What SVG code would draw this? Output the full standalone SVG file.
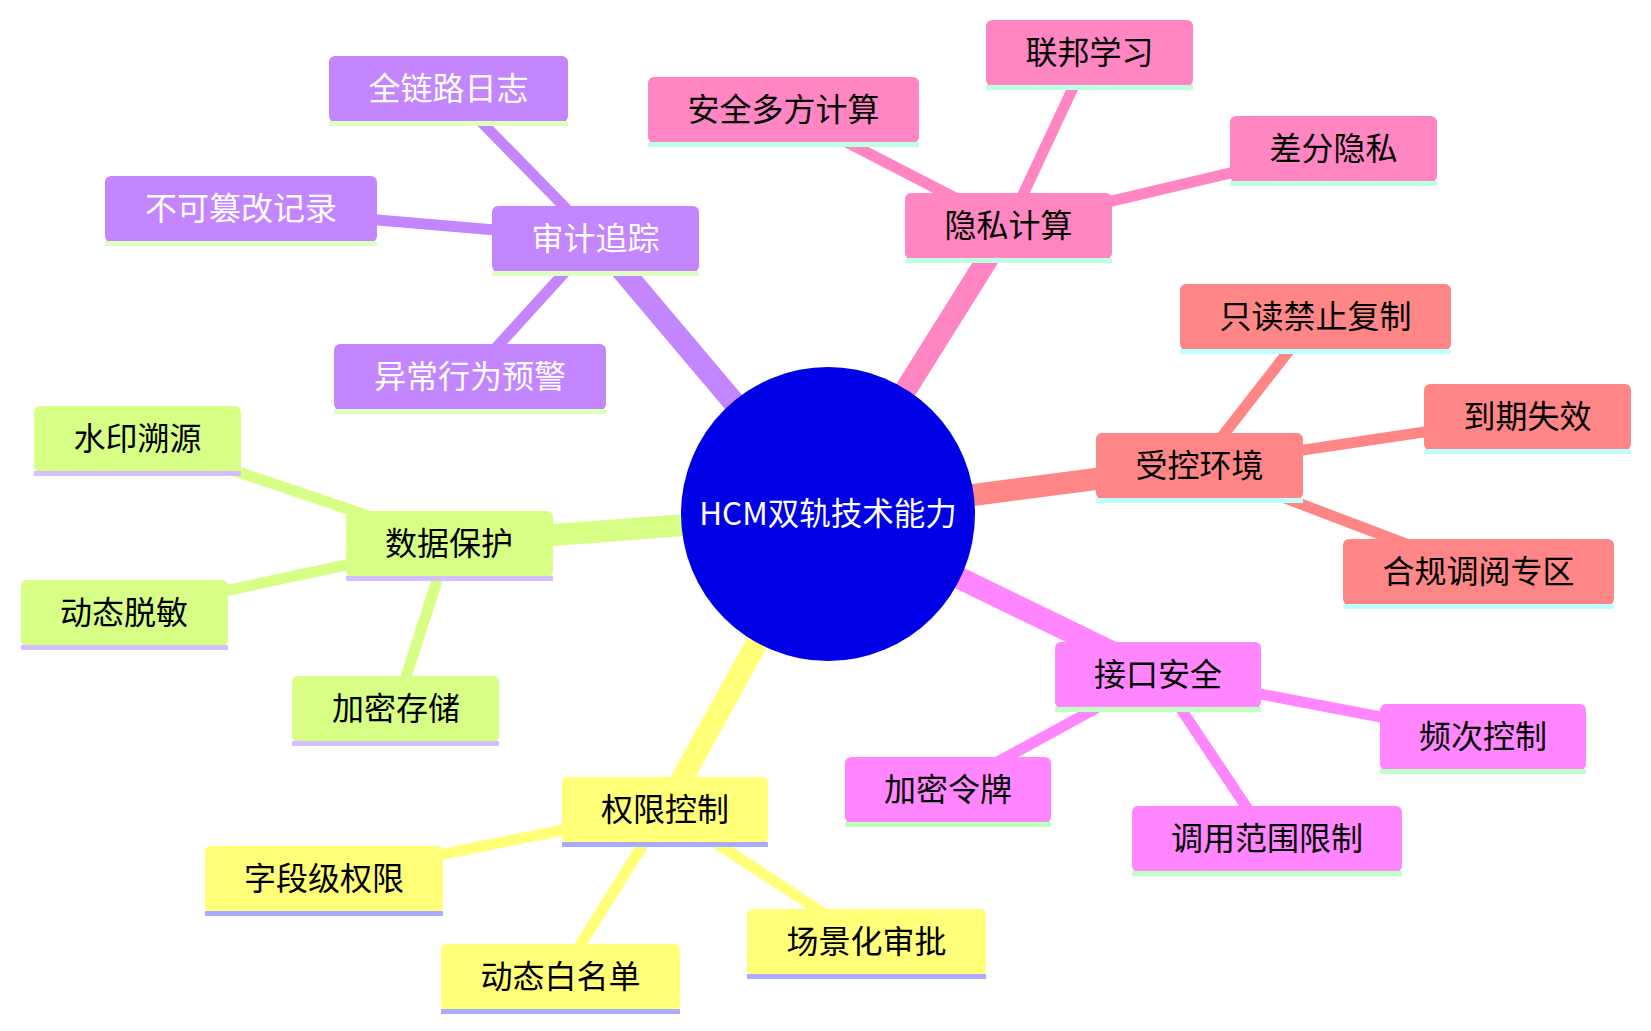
<svg xmlns="http://www.w3.org/2000/svg" width="1651" height="1031" viewBox="0 0 1651 1031">
<style>
  text { font-family: "Noto Sans CJK SC", "Noto Sans", sans-serif; font-size: 32px; text-anchor: middle; dominant-baseline: central; fill: #000; }
  .e0 { stroke-width: 22; stroke-linecap: butt; fill: none; }
  .e1 { stroke-width: 11; stroke-linecap: butt; fill: none; }
  .s-purple { stroke: #C386FF; } .f-purple { fill: #C386FF; } .u-purple { fill: #DDFFBF; }
  .s-pink { stroke: #FF86C3; } .f-pink { fill: #FF86C3; } .u-pink { fill: #BFFFE1; }
  .s-salmon { stroke: #FF8686; } .f-salmon { fill: #FF8686; } .u-salmon { fill: #BFFFFF; }
  .s-mag { stroke: #FF86FF; } .f-mag { fill: #FF86FF; } .u-mag { fill: #BFFFBF; }
  .s-yellow { stroke: #FFFF78; } .f-yellow { fill: #FFFF78; } .u-yellow { fill: #AAAAFF; }
  .s-lime { stroke: #D7FF86; } .f-lime { fill: #D7FF86; } .u-lime { fill: #D5BFFF; }
  .white { fill: #FFFFFF; }
</style>
<rect width="1651" height="1031" fill="#FFFFFF"/>
<g id="connectors">
  <line class="e0 s-purple" x1="828" y1="514" x2="595.5" y2="238.5"/>
  <line class="e1 s-purple" x1="595.5" y1="238.5" x2="448.5" y2="88.5"/>
  <line class="e1 s-purple" x1="595.5" y1="238.5" x2="241" y2="208.5"/>
  <line class="e1 s-purple" x1="595.5" y1="238.5" x2="470" y2="376.5"/>
  <line class="e0 s-pink" x1="828" y1="514" x2="1008.5" y2="225.5"/>
  <line class="e1 s-pink" x1="1008.5" y1="225.5" x2="783.5" y2="109.5"/>
  <line class="e1 s-pink" x1="1008.5" y1="225.5" x2="1089.5" y2="52.5"/>
  <line class="e1 s-pink" x1="1008.5" y1="225.5" x2="1333.5" y2="148.5"/>
  <line class="e0 s-salmon" x1="828" y1="514" x2="1199.5" y2="465.5"/>
  <line class="e1 s-salmon" x1="1199.5" y1="465.5" x2="1315.5" y2="316.5"/>
  <line class="e1 s-salmon" x1="1199.5" y1="465.5" x2="1527.5" y2="416.5"/>
  <line class="e1 s-salmon" x1="1199.5" y1="465.5" x2="1478.5" y2="571.5"/>
  <line class="e0 s-mag" x1="828" y1="514" x2="1158" y2="674.5"/>
  <line class="e1 s-mag" x1="1158" y1="674.5" x2="1483" y2="736.5"/>
  <line class="e1 s-mag" x1="1158" y1="674.5" x2="948" y2="789"/>
  <line class="e1 s-mag" x1="1158" y1="674.5" x2="1267" y2="838"/>
  <line class="e0 s-yellow" x1="828" y1="514" x2="665" y2="809.5"/>
  <line class="e1 s-yellow" x1="665" y1="809.5" x2="324" y2="878"/>
  <line class="e1 s-yellow" x1="665" y1="809.5" x2="560.5" y2="976.5"/>
  <line class="e1 s-yellow" x1="665" y1="809.5" x2="866.5" y2="941.5"/>
  <line class="e0 s-lime" x1="828" y1="514" x2="449" y2="543"/>
  <line class="e1 s-lime" x1="449" y1="543" x2="137.5" y2="438"/>
  <line class="e1 s-lime" x1="449" y1="543" x2="124" y2="612.5"/>
  <line class="e1 s-lime" x1="449" y1="543" x2="396" y2="708"/>
</g>
<g id="root">
  <circle cx="828" cy="514" r="147" fill="#0000E6"/>
  <text class="white" x="828" y="511" style="font-size:31.5px">HCM双轨技术能力</text>
</g>
<g id="n-audit"><rect class="f-purple" x="492" y="206" width="207" height="66" rx="6"/><rect class="u-purple" x="492" y="271" width="207" height="5"/><text class="white" x="595.5" y="236">审计追踪</text></g>
<g id="n-log"><rect class="f-purple" x="329" y="56" width="239" height="66" rx="6"/><rect class="u-purple" x="329" y="121" width="239" height="5"/><text class="white" x="448.5" y="86">全链路日志</text></g>
<g id="n-tamper"><rect class="f-purple" x="105" y="176" width="272" height="66" rx="6"/><rect class="u-purple" x="105" y="241" width="272" height="5"/><text class="white" x="241" y="206">不可篡改记录</text></g>
<g id="n-alert"><rect class="f-purple" x="334" y="344" width="272" height="66" rx="6"/><rect class="u-purple" x="334" y="409" width="272" height="5"/><text class="white" x="470" y="374">异常行为预警</text></g>

<g id="n-privacy"><rect class="f-pink" x="905" y="193" width="207" height="66" rx="6"/><rect class="u-pink" x="905" y="258" width="207" height="5"/><text x="1008.5" y="223">隐私计算</text></g>
<g id="n-mpc"><rect class="f-pink" x="648" y="77" width="271" height="66" rx="6"/><rect class="u-pink" x="648" y="142" width="271" height="5"/><text x="783.5" y="107">安全多方计算</text></g>
<g id="n-fl"><rect class="f-pink" x="986" y="20" width="207" height="66" rx="6"/><rect class="u-pink" x="986" y="85" width="207" height="5"/><text x="1089.5" y="50">联邦学习</text></g>
<g id="n-dp"><rect class="f-pink" x="1230" y="116" width="207" height="66" rx="6"/><rect class="u-pink" x="1230" y="181" width="207" height="5"/><text x="1333.5" y="146">差分隐私</text></g>

<g id="n-env"><rect class="f-salmon" x="1096" y="433" width="207" height="66" rx="6"/><rect class="u-salmon" x="1096" y="498" width="207" height="5"/><text x="1199.5" y="463">受控环境</text></g>
<g id="n-readonly"><rect class="f-salmon" x="1180" y="284" width="271" height="66" rx="6"/><rect class="u-salmon" x="1180" y="349" width="271" height="5"/><text x="1315.5" y="314">只读禁止复制</text></g>
<g id="n-expire"><rect class="f-salmon" x="1424" y="384" width="207" height="66" rx="6"/><rect class="u-salmon" x="1424" y="449" width="207" height="5"/><text x="1527.5" y="414">到期失效</text></g>
<g id="n-zone"><rect class="f-salmon" x="1343" y="539" width="271" height="66" rx="6"/><rect class="u-salmon" x="1343" y="604" width="271" height="5"/><text x="1478.5" y="569">合规调阅专区</text></g>

<g id="n-api"><rect class="f-mag" x="1055" y="642" width="206" height="66" rx="6"/><rect class="u-mag" x="1055" y="707" width="206" height="5"/><text x="1158" y="672">接口安全</text></g>
<g id="n-rate"><rect class="f-mag" x="1380" y="704" width="206" height="66" rx="6"/><rect class="u-mag" x="1380" y="769" width="206" height="5"/><text x="1483" y="734">频次控制</text></g>
<g id="n-token"><rect class="f-mag" x="845" y="757" width="206" height="66" rx="6"/><rect class="u-mag" x="845" y="822" width="206" height="5"/><text x="948" y="786.5">加密令牌</text></g>
<g id="n-scope"><rect class="f-mag" x="1132" y="806" width="270" height="66" rx="6"/><rect class="u-mag" x="1132" y="871" width="270" height="5"/><text x="1267" y="835.5">调用范围限制</text></g>

<g id="n-perm"><rect class="f-yellow" x="562" y="777" width="206" height="66" rx="6"/><rect class="u-yellow" x="562" y="842" width="206" height="5"/><text x="665" y="807">权限控制</text></g>
<g id="n-field"><rect class="f-yellow" x="205" y="846" width="238" height="66" rx="6"/><rect class="u-yellow" x="205" y="911" width="238" height="5"/><text x="324" y="875.5">字段级权限</text></g>
<g id="n-white"><rect class="f-yellow" x="441" y="944" width="239" height="66" rx="6"/><rect class="u-yellow" x="441" y="1009" width="239" height="5"/><text x="560.5" y="974">动态白名单</text></g>
<g id="n-scene"><rect class="f-yellow" x="747" y="909" width="239" height="66" rx="6"/><rect class="u-yellow" x="747" y="974" width="239" height="5"/><text x="866.5" y="939">场景化审批</text></g>

<g id="n-data"><rect class="f-lime" x="346" y="511" width="207" height="66" rx="6"/><rect class="u-lime" x="346" y="576" width="207" height="5"/><text x="449" y="540.5">数据保护</text></g>
<g id="n-wm"><rect class="f-lime" x="34" y="406" width="207" height="66" rx="6"/><rect class="u-lime" x="34" y="471" width="207" height="5"/><text x="137.5" y="435.5">水印溯源</text></g>
<g id="n-mask"><rect class="f-lime" x="21" y="580" width="207" height="66" rx="6"/><rect class="u-lime" x="21" y="645" width="207" height="5"/><text x="124" y="610">动态脱敏</text></g>
<g id="n-enc"><rect class="f-lime" x="292" y="676" width="207" height="66" rx="6"/><rect class="u-lime" x="292" y="741" width="207" height="5"/><text x="396" y="705.5">加密存储</text></g>
</svg>
